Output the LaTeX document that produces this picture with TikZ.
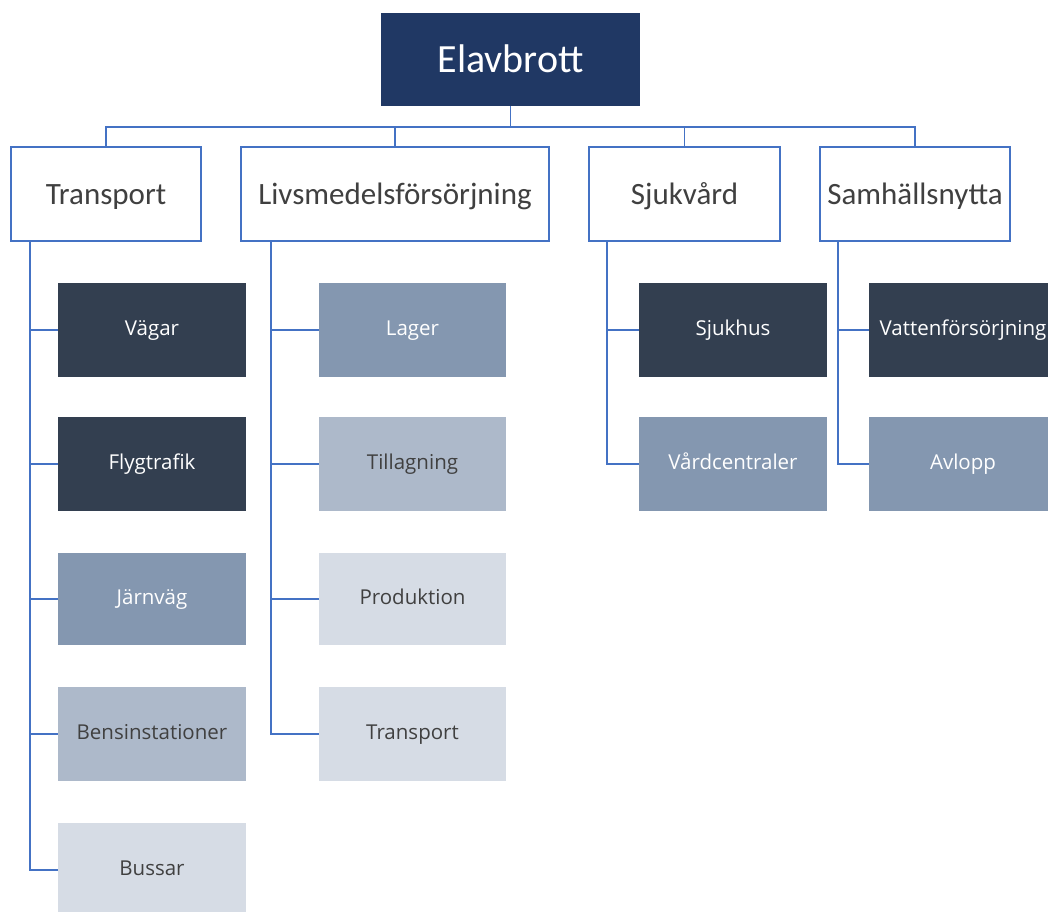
\documentclass[tikz,border=0pt]{standalone}
\usepackage{fontspec}
\newfontfamily\headfont{Carlito}
\newfontfamily\leaffont{Open Sans}
\definecolor{navy}{HTML}{203864}
\definecolor{lineblue}{HTML}{4472C4}
\definecolor{txtgray}{HTML}{404040}
\definecolor{shadeA}{HTML}{333F50}
\definecolor{shadeB}{HTML}{8497B0}
\definecolor{shadeC}{HTML}{ADB9CA}
\definecolor{shadeD}{HTML}{D6DCE5}
\tikzset{
  topbox/.style={fill=navy, text=white, inner sep=0pt,
    minimum width=259pt, minimum height=93pt,
    text height=34pt, text depth=8pt,
    font=\headfont\fontsize{40}{40}\selectfont},
  catbox/.style={draw=lineblue, line width=1.4pt, fill=white, text=txtgray,
    inner sep=0pt, minimum height=94pt,
    text height=27pt, text depth=7pt,
    font=\headfont\fontsize{31}{31}\selectfont},
  leaf/.style={inner sep=0pt, minimum width=188pt, minimum height=94pt,
    text height=20pt, text depth=9pt,
    font=\leaffont\fontsize{20.5}{20.5}\selectfont},
  leafA/.style={leaf, fill=shadeA, text=white},
  leafB/.style={leaf, fill=shadeB, text=white},
  leafC/.style={leaf, fill=shadeC, text=txtgray},
  leafD/.style={leaf, fill=shadeD, text=txtgray},
  link/.style={draw=lineblue, line width=1.4pt},
}
\begin{document}
\begin{tikzpicture}[x=1pt, y=-1pt]
\useasboundingbox (0,0) rectangle (1048,911);
\clip (0,0) rectangle (1048,911);

% root
\node[topbox] (root) at (510.5,59.5) {Elavbrott};

% categories
\node[catbox, minimum width=190pt] (transp) at (106,194) {Transport};
\node[catbox, minimum width=308pt] (livs)   at (395,194) {Livsmedelsförsörjning};
\node[catbox, minimum width=191pt] (sjuk)   at (684.5,194) {Sjukvård};
\node[catbox, minimum width=190pt] (samh)   at (915,194) {Samhällsnytta};

% Transport column
\node[leafA] (vagar) at (152,330) {Vägar};
\node[leafA] (flyg)  at (152,464) {Flygtrafik};
\node[leafB, minimum height=92pt] (jarn) at (152,599) {Järnväg};
\node[leafC] (bens)  at (152,734) {Bensinstationer};
\node[leafD] (buss)  at (152,870) {Bussar};

% Livsmedel column
\node[leafB, minimum width=187pt] (lager) at (412.5,330) {Lager};
\node[leafC, minimum width=187pt] (till)  at (412.5,464) {Tillagning};
\node[leafD, minimum width=187pt, minimum height=92pt] (prod) at (412.5,599) {Produktion};
\node[leafD, minimum width=187pt] (ltra)  at (412.5,734) {Transport};

% Sjukvård column
\node[leafA] (sjukhus) at (733,330) {Sjukhus};
\node[leafB] (vard)    at (733,464) {Vårdcentraler};

% Samhällsnytta column
\node[leafA] (vatten) at (963,330) {Vattenförsörjning};
\node[leafB] (avlopp) at (963,464) {Avlopp};

% root to categories
\coordinate (bus) at (510.5,127);
\draw[link] (root.south) -- (root.south |- bus);
\draw[link] (transp.north) |- (samh.north |- bus) -- (samh.north);
\draw[link] (livs.north) -- (livs.north |- bus);
\draw[link] (sjuk.north) -- (sjuk.north |- bus);

% spines
\coordinate (sp1) at (30,241);
\coordinate (sp2) at (271,241);
\coordinate (sp3) at (607,241);
\coordinate (sp4) at (838,241);

\draw[link] (sp1) |- (buss.west);
\foreach \n in {vagar,flyg,jarn,bens} \draw[link] (sp1 |- \n.west) -- (\n.west);

\draw[link] (sp2) |- (ltra.west);
\foreach \n in {lager,till,prod} \draw[link] (sp2 |- \n.west) -- (\n.west);

\draw[link] (sp3) |- (vard.west);
\draw[link] (sp3 |- sjukhus.west) -- (sjukhus.west);

\draw[link] (sp4) |- (avlopp.west);
\draw[link] (sp4 |- vatten.west) -- (vatten.west);
\end{tikzpicture}
\end{document}
